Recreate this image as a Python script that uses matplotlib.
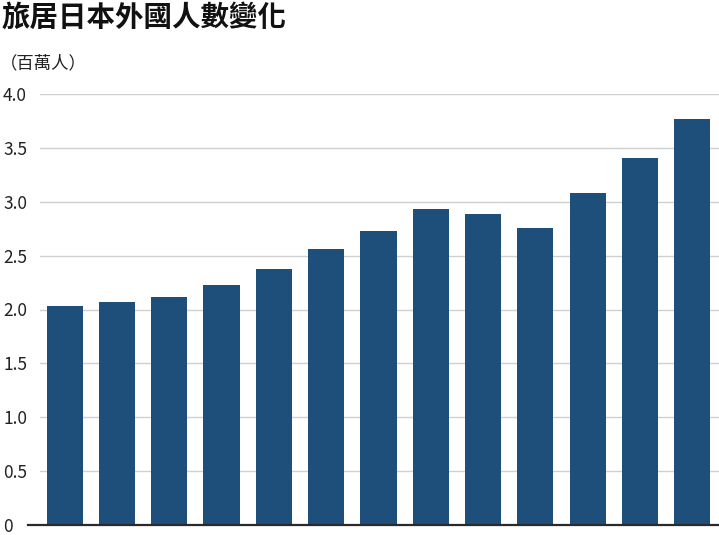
import numpy as np
import matplotlib.pyplot as plt

plt.rcParams['font.family'] = ['Noto Sans CJK TC', 'DejaVu Sans']

years = ['2012', '2013', '2014', '2015', '2016', '2017', '2018',
         '2019', '2020', '2021', '2022', '2023', '2024']
residents = [2.03, 2.07, 2.12, 2.23, 2.38, 2.56, 2.73,
             2.93, 2.89, 2.76, 3.08, 3.41, 3.77]
yticks = [0, 0.5, 1.0, 1.5, 2.0, 2.5, 3.0, 3.5, 4.0]
ylabels = ['0', '0.5', '1.0', '1.5', '2.0', '2.5', '3.0', '3.5', '4.0']

W, H = 719, 535
fig = plt.figure(figsize=(W / 100, H / 100), dpi=100)
ax = fig.add_axes([40 / W, 10 / H, (W - 40) / W, (525 - 94) / H])

x = np.arange(len(years))
ax.bar(x, residents, width=0.69, color='#1d4f7a', zorder=3)

ax.set_xlim(-0.47, 12.51)
ax.set_ylim(0, 4.0)
ax.set_yticks(yticks)
ax.set_yticklabels(ylabels)
ax.set_xticks([])
ax.tick_params(axis='y', length=0, pad=26.6, labelsize=12.5, colors='#222222')
for lab in ax.get_yticklabels():
    lab.set_horizontalalignment('left')

ax.grid(axis='y', color='#d0d0d0', lw=1, zorder=0)
for s in ax.spines.values():
    s.set_visible(False)
# baseline
ax.axhline(0, xmin=-12 / (W - 40), xmax=1, color='#2a2a2a', lw=1.6,
           clip_on=False, zorder=4)

fig.text(2 / W, 1 - 18 / H, '旅居日本外國人數變化', fontsize=20.5, fontweight='bold',
         va='center', ha='left', color='#111111')
fig.text(0, 1 - 63 / H, '（百萬人）', fontsize=12.5, va='center', ha='left',
         color='#222222')

fig.savefig('out.png', dpi=100, facecolor='white')
